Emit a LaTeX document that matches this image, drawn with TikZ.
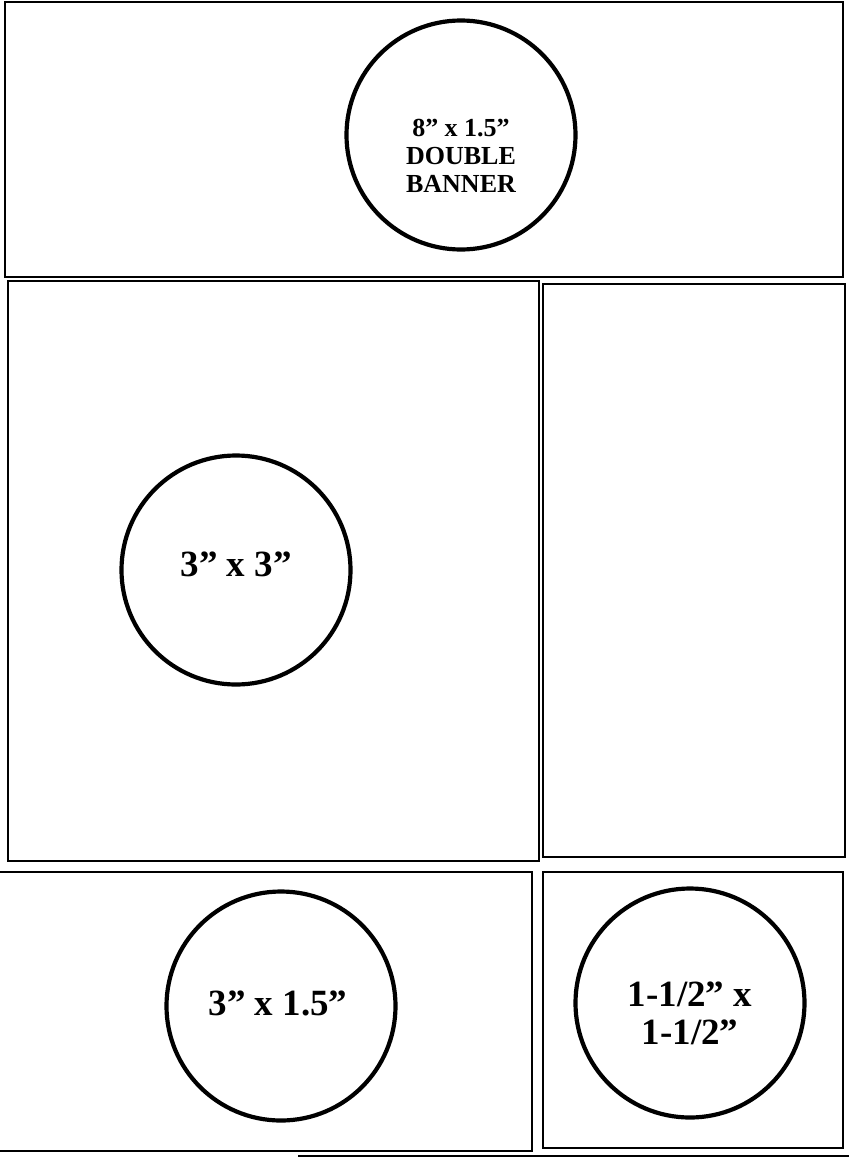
\documentclass[tikz,border=0pt]{standalone}
\usepackage{fontspec}
\setmainfont{Liberation Serif}
\usepackage{tikz}

\tikzset{
  panel/.style={draw,line width=2.3pt},
  disc/.style={circle,draw,line width=4.2pt,inner sep=0pt,minimum size=229pt},
  sizelabel/.style={align=center,inner sep=0pt,font=\bfseries\fontsize{37}{38}\selectfont},
  bannerlabel/.style={align=center,inner sep=0pt,font=\bfseries\fontsize{26}{28}\selectfont},
}

\begin{document}
\begin{tikzpicture}[x=1pt,y=-1pt]
  \useasboundingbox (0,0) rectangle (849,1157);
  % ---- sheet panels ----
  \draw[panel] (5,2) rectangle (843,277);
  \draw[panel] (8,281) rectangle (539,861);
  \draw[panel] (543,284) rectangle (845,857);
  \draw[panel] (-0.8,872) rectangle (532,1151);
  \draw[panel] (543,872) rectangle (843,1148);
  % rule under the sheet
  \draw[line width=2pt] (298,1156) -- (849,1156);
  % ---- round stickers ----
  \node[disc] (bannerdisc) at (461,135) {};
  \node[bannerlabel] (bannertext) at (461,156) {8” x 1.5”\\DOUBLE\\BANNER};
  \node[disc] (bigdisc) at (236,570) {};
  \node[sizelabel] (bigtext) at (236,564) {3” x 3”};
  \node[disc] (halfdisc) at (281,1006) {};
  \node[sizelabel] (halftext) at (278,1003) {3” x 1.5”};
  \node[disc] (smalldisc) at (690,1003) {};
  \node[sizelabel] (smalltext) at (690,1013) {1-1/2” x\\1-1/2”};
\end{tikzpicture}
\end{document}
